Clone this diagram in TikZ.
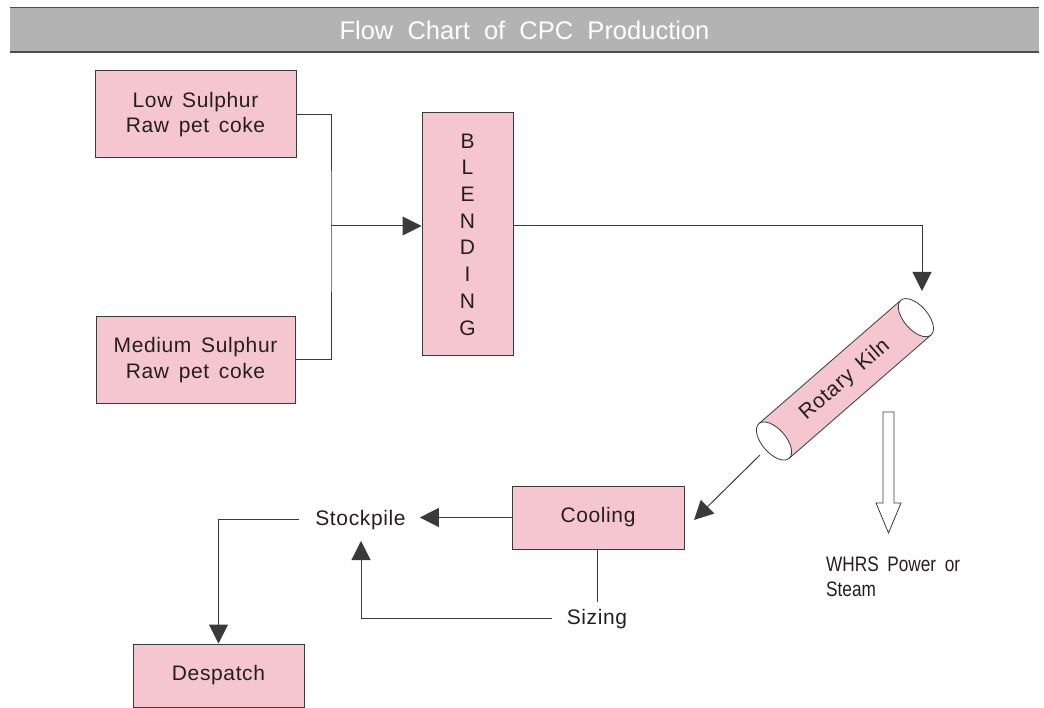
\documentclass[tikz,border=0pt]{standalone}
\usepackage{fontspec}
\setmainfont[LetterSpace=3,WordSpace=1.5]{Liberation Sans}
\newfontfamily\titlefont[WordSpace=2]{Liberation Sans}
\newfontfamily\narrowfont[FakeStretch=0.82,WordSpace=1.8]{Liberation Sans}
\usetikzlibrary{arrows.meta}
\definecolor{boxpink}{HTML}{F6C6D0}
\definecolor{barfill}{HTML}{B3B3B3}
\definecolor{barline}{HTML}{4D4D4D}
\definecolor{edge}{HTML}{3A3A3A}
\definecolor{ink}{HTML}{231F20}
\tikzset{
  pbox/.style={draw=edge, line width=1pt, fill=boxpink, inner sep=0pt, align=center,
               font=\fontsize{21}{25.5}\selectfont, text=ink},
  lbl/.style={inner sep=0pt, font=\fontsize{21}{25.5}\selectfont, text=ink},
  conn/.style={draw=edge, line width=1pt},
  arr/.style={conn, -{Triangle[length=19pt,width=19pt]}, color=edge},
  kilnline/.style={draw=edge, line width=0.8pt}
}
\begin{document}
\begin{tikzpicture}[x=1pt,y=-1pt]
\useasboundingbox (0,0) rectangle (1044,708);
% title bar
\node[fill=barfill, minimum width=1029pt, minimum height=44pt, inner sep=0pt,
      text=white, font=\titlefont\fontsize{25.5}{30}\selectfont] (title) at (524.5,30) {Flow Chart of CPC Production};
\draw[barline, line width=1.4pt] (title.north west) -- (title.north east);
\draw[barline, line width=1.6pt] (title.south west) -- (title.south east);

% boxes
\node[pbox, minimum width=201pt, minimum height=87pt] (low) at (195.5,114.5) {Low Sulphur\\Raw pet coke};
\node[pbox, minimum width=199pt, minimum height=86pt] (med) at (195.5,360) {Medium Sulphur\\Raw pet coke};
\node[pbox, minimum width=91pt, minimum height=243pt, font=\fontsize{21}{26.7}\selectfont] (blend) at (467.5,234.5) {B\\L\\E\\N\\D\\I\\N\\G};
\node[pbox, minimum width=172pt, minimum height=63pt] (cool) at (598,517.5) {Cooling};
\node[pbox, minimum width=171pt, minimum height=63pt] (desp) at (218.5,675.5) {Despatch};

% text labels
\node[lbl, anchor=base] (stock) at (360.5,525) {Stockpile};
\node[lbl, anchor=base] (sizing) at (597,624) {Sizing};
\node[inner sep=0pt, anchor=north west, align=left, text=ink,
      font=\narrowfont\fontsize{21}{25}\selectfont] (whrs) at (826,557) {WHRS Power or\\Steam};

% rotary kiln
\begin{scope}[shift={(774,441)}, rotate=41]
  \fill[boxpink] (0,-23) rectangle (188,23);
  \draw[kilnline] (0,-23) -- (188,-23);
  \draw[kilnline] (0,23) -- (188,23);
  \draw[kilnline, fill=white] (0,0) ellipse [x radius=12, y radius=23];
  \draw[kilnline, fill=white] (188,0) ellipse [x radius=12, y radius=23];
\end{scope}
\node[lbl, rotate=41] (kiln) at (845,380) {Rotary Kiln};

% hollow arrow to WHRS
\draw[kilnline, fill=white] (883,412) -- (894,412) -- (894,503) -- (901,503) -- (888.5,533) -- (876,503) -- (883,503) -- cycle;

% coordinates
\coordinate (j) at (331,226);
\coordinate (kilnin) at (922,291);
\coordinate (kilnout) at (760,455);
\coordinate (coolin) at (694,520);
\coordinate (sizetop) at (597,602);
\coordinate (stockbot) at (361,541);

% connectors
\draw[conn] (low.east) -| (j) |- (med.east);
\draw[arr] (j) -- (blend.west |- j);
\draw[arr] (blend.east |- j) -| (kilnin);
\draw[arr] (kilnout) -- (coolin);
\draw[arr, shorten >=14pt] (cool.west) -- (stock.east |- cool.west);
\draw[arr, shorten <=16pt] (stock.west |- 0,519) -| (desp.north);
\draw[conn] (cool.south -| sizetop) -- (sizetop);
\draw[arr, shorten <=15pt] (sizing.west |- 0,618) -| (stockbot);
\end{tikzpicture}
\end{document}
